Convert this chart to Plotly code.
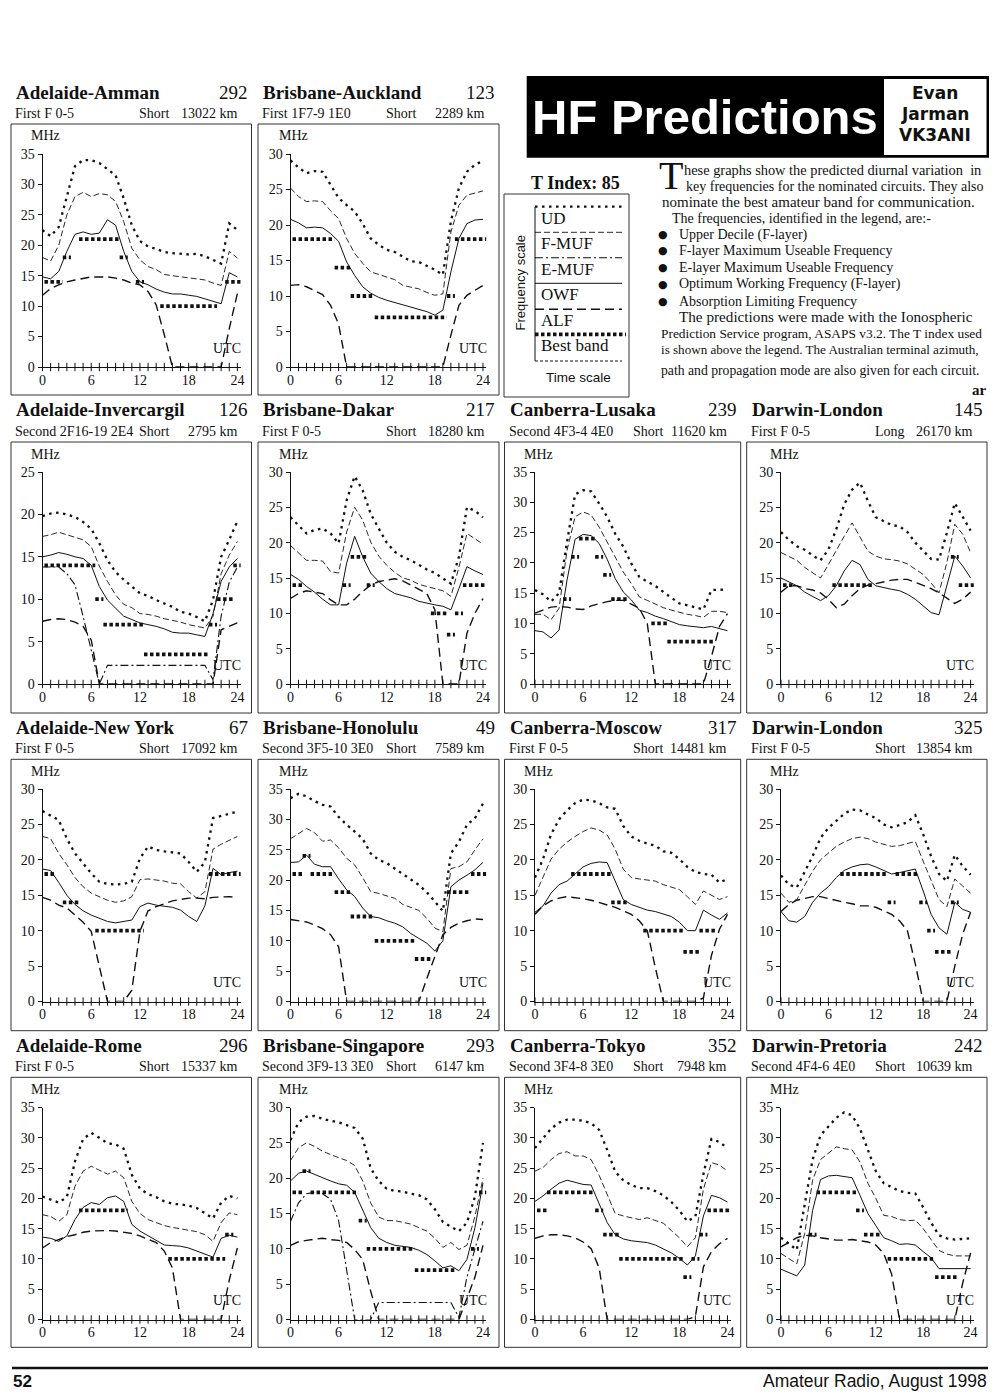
import plotly.graph_objects as go

# ---------------- data (read from the page) ----------------
HOURS = list(range(25))
X_TICKS = [0, 6, 12, 18, 24]

AMMAN_UD = [22.5,21.5,23,28,33,34,34,33.5,32.5,31.5,27.7,23.3,20.7,19.8,19.4,18.9,18.7,18.6,18.5,18.6,18.2,17.6,17,23.6,22.5]
AMMAN_FMUF = [18,17.4,20,25,28,28.7,28,28.5,28.3,27.2,23.9,19.5,17.6,16.5,16,15.2,15,14.8,14.6,14.5,14.3,13.8,13.4,19,17.9]
AMMAN_OWF = [14.8,14.5,15.7,19,21.8,22.2,21.8,22,24.2,23.3,19,15.7,14,13.5,12.8,12.3,12,12,11.8,11.6,11.2,10.8,10.4,15.5,14.8]
AMMAN_ALF = [11.8,12.9,13.5,14,14.3,14.6,14.8,14.8,14.8,14.6,14.3,13.8,13.5,12.4,10.2,5.3,0,0,0,0,0,0,0,6.3,12.1]
AMMAN_BEST = [14,14,14,18,None,21,21,21,21,21,18,None,14,None,None,10,10,10,10,10,10,10,None,14,14]

AUCKLAND_UD = [29.1,28.1,27.3,27.6,27.5,25.6,23.8,22.8,21.9,20.2,18.1,17.2,16.5,16.2,15.5,14.9,14.8,14.3,13.7,13,20.5,25.2,27.5,28.5,29]
AUCKLAND_FMUF = [25.2,24,23.3,23.4,23.3,22,20.9,18.1,16,14.6,13.4,13,12.7,12.3,11.5,11.3,11,10.5,10.1,10.3,19,22.8,24.2,24.5,24.8]
AUCKLAND_OWF = [20.8,20.3,19.6,19.7,19.6,18.8,17.7,14.8,12.9,11.3,10.4,9.8,9.4,9.1,8.7,8.4,8.1,7.8,7.3,8,13.4,18.1,20.2,20.7,20.8]
AUCKLAND_ALF = [11.5,11.6,11.3,10.7,10.2,8.7,6,0,0,0,0,0,0,0,0,0,0,0,0,0,4.5,8.7,10.1,10.8,11.5]
AUCKLAND_BEST = [18,18,18,18,18,18,14,14,10,10,10,7,7,7,7,7,7,7,7,7,10,18,18,18,18]

INVERCARGIL_UD = [19.8,20.1,20.2,20,19.7,19.1,18.3,16.6,14.6,13.2,12.3,11.5,10.7,10.4,9.9,9.5,9.1,8.5,8.3,7.9,7.4,9.9,15,17,19.2]
INVERCARGIL_FMUF = [17.4,17.6,17.9,17.6,17.3,17,16.2,13.9,12.1,10.5,9.4,9,8.3,8.2,8,7.7,7.5,7.3,7,6.8,6.6,8,13,15.2,16.8]
INVERCARGIL_EMUF = [13.8,13.8,13.8,13,11.7,8,4,0,2.2,2.2,2.2,2.2,2.2,2.2,2.2,2.2,2.2,2.2,2.2,2.2,2.2,0.5,8,12,13.8]
INVERCARGIL_OWF = [15,15.2,15.5,15.3,15,14.8,14,11.5,9.9,8.9,8,7.6,7.2,7,6.8,6.5,6.1,6,6,5.8,5.6,8.3,12.1,13.8,14.8]
INVERCARGIL_ALF = [7.4,7.6,7.7,7.6,7.3,6.8,5.2,0,0,0,0,0,0,0,0,0,0,0,0,0,0,0,6.4,6.8,7.2]
INVERCARGIL_BEST = [14,14,14,14,14,14,14,10,7,7,7,7,7,3.5,3.5,3.5,3.5,3.5,3.5,3.5,3.5,7,10,10,14]

DAKAR_UD = [23.6,22.5,21.3,21.8,22,21.3,19.9,26,29.4,27.4,24.1,22,20,18.7,18,17.5,16.8,16.2,15.7,15,14.2,18,25,24.5,23.6]
DAKAR_FMUF = [19.6,18.5,17.5,17.5,17.4,15.9,15.7,21.5,25,23.2,20.1,18.1,16.8,15.8,15,14.7,14.1,13.8,13.5,13.2,12.4,16.5,21.3,20.5,19.8]
DAKAR_OWF = [15.5,14.8,13.8,13,12,11.2,11.2,17.1,20.9,18,15.7,14.5,13.5,12.8,12.5,12.2,11.7,11.4,11.2,11,10.5,13.5,16.6,16,15.5]
DAKAR_ALF = [12.1,12.8,13.2,13,12.8,11.9,11.2,11.2,12,13.1,14,14.5,14.7,14.9,14.6,14,13.5,12.8,10.5,0,0,0,7.2,10,12.1]
DAKAR_BEST = [14,14,None,None,None,None,None,14,18,18,14,None,None,None,None,None,None,None,10,10,7,10,14,14,14]

LUSAKA_UD = [15.5,14.8,13.6,15,23.5,31.3,32,31.8,29.8,27.6,24.8,22.7,19.9,17.7,16.9,16.2,15.2,14.2,13.3,13,12.6,12.3,15.5,15.6,15.5]
LUSAKA_FMUF = [11.5,11.5,10.6,12.5,22.1,27.6,28.4,27.9,25.9,23.5,21,18.5,16.6,14.4,13.8,13.2,12.6,12.2,11.8,11.5,11.3,11,12,12,11.8]
LUSAKA_OWF = [8.8,8.6,7.6,8.9,17.2,23.9,24.7,24.5,23.2,20.6,17.4,15.2,13.9,12.2,11.8,11.2,10.8,10.3,9.8,9.6,9.5,9.3,9.5,9.2,8.8]
LUSAKA_ALF = [11.7,12.2,12.7,12.8,12.7,12.4,12.3,12.9,13.3,13.6,13.8,13.8,13.2,12.5,10,0,0,0,0,0,0,0,4.5,9.5,11.6]
LUSAKA_BEST = [None,None,None,None,14,21,24,24,21,18,14,14,None,None,None,10,10,7,7,7,7,7,7,None,None]

LONDON_L_UD = [21.5,20.4,19.5,19,18.2,17.5,19,21.9,25.4,27.5,28.5,25.9,23.6,23,22.5,22.3,21.5,20,18.8,17.7,17.6,21.4,25.6,23.7,21.7]
LONDON_L_FMUF = [18.6,18,17.5,16.5,15.8,15,16.9,19,20.9,22.8,20.9,18.8,18.1,17.7,17.6,17.4,17,16.2,15.5,14.3,12.9,17.2,22.6,21.2,18.6]
LONDON_L_OWF = [15,14.5,13.9,13,12.4,11.8,12.5,13.9,16,17.5,16.9,14.8,13.9,13.6,13.4,13.2,12.7,12,11,10.1,9.8,13.9,18.1,16.7,15]
LONDON_L_ALF = [13,13.9,13.9,13.5,13.3,12.9,12,10.8,11.3,12.5,13.5,14,14.2,14.5,14.7,14.8,14.8,14.4,14,13.5,12.9,12.1,11.4,12,13]
LONDON_L_BEST = [14,14,None,None,None,None,None,14,14,14,14,14,None,None,None,None,None,None,None,None,None,None,18,14,14]

NEWYORK_UD = [26.9,26.3,25.6,23,20.9,19.5,18.1,16.9,16.6,16.5,16.6,16.9,20.2,21.9,21.4,21.2,21,20.9,19.7,18.3,19.7,25.9,26.2,26.5,26.8]
NEWYORK_FMUF = [23.3,23,20.9,19.3,17.5,16.2,15.3,14.8,14.3,14,14.2,14.8,17.2,17.3,17.2,17,16.7,16.6,15.5,14.6,15.5,21.5,22.2,22.7,23.3]
NEWYORK_OWF = [18.7,18.5,16.8,15,13.7,12.8,12.2,11.8,11.3,11.1,11.3,11.5,13.4,13.9,13.6,13.4,13.3,12.9,12,11.3,13.5,18.8,17.9,18.2,18.4]
NEWYORK_ALF = [14.7,14.3,13.6,13.2,12.2,11.2,9.9,4.9,0,0,0,1.6,9.9,12.8,13.4,13.8,14.2,14.4,14.6,14.6,14.5,14.7,14.8,14.8,14.7]
NEWYORK_BEST = [18,18,None,14,14,None,None,10,10,10,10,10,10,None,None,None,None,None,None,None,None,18,18,18,18]

HONOLULU_UD = [33.5,34.2,33.8,33,32.4,32.1,30.4,29.1,28,26.8,24.4,23.3,22.8,21.9,21,20.1,19.2,18,16.5,14.9,24.4,26.3,29.1,30.2,32.6]
HONOLULU_FMUF = [26.8,27.7,28.5,27.8,26.4,26.6,25.3,23.6,22.5,20.4,18.1,17.8,17.4,17,16,15.5,15,13.7,12.1,11.5,21.9,22.2,23,25,26.8]
HONOLULU_OWF = [22.9,23,24.1,22.6,22.2,22.2,20.2,18.4,17.3,15.4,14,13.8,13.3,12.9,12.3,11.2,10.4,9.6,8.3,10,18.9,20,20.8,21.7,22.9]
HONOLULU_ALF = [13.5,13.3,13.1,12.6,12,11,9,0,0,0,0,0,0,0,0,0,0,3.8,7.5,11,12.2,12.9,13.3,13.6,13.5]
HONOLULU_BEST = [21,21,24,21,21,21,18,18,14,14,14,10,10,10,10,10,7,7,None,None,18,18,18,21,21]

MOSCOW_UD = [17.5,20.1,23.6,25.7,27,28,28.5,28.4,28,27.4,27.2,24.8,23.3,22.7,22.3,22,21.2,21,20.1,19,18.3,18,17.9,16.8,17.3]
MOSCOW_FMUF = [15,17.5,20.1,21.5,22.5,23.3,24,24.5,24.2,23.5,21.5,18.7,17.5,17.3,17.1,17,16.5,16.2,15.8,14.8,13.7,15.6,15,14.4,14.8]
MOSCOW_OWF = [12.6,13.5,15.3,16.5,17,18,19,19.5,19.7,19.6,17,14.4,13.7,13.3,12.9,12.7,12.3,12,11.2,10,10,12.9,12.2,11.6,12.5]
MOSCOW_ALF = [12.3,13.5,14.2,14.6,14.8,14.7,14.5,14.3,14,13.7,13.3,12.8,12.3,11.4,10,4.8,0,0,0,0,0,0.5,6.5,10.2,12.3]
MOSCOW_BEST = [None,None,None,None,None,18,18,18,18,18,14,14,None,None,10,10,10,10,10,7,7,10,10,None,None]

LONDON_S_UD = [17.8,16.5,16.1,18.4,20.5,23.1,24.5,25.5,26.5,27.1,27,26.4,25.9,25,24.6,24.9,25.3,26.3,23.6,20.5,18,17,20.7,19.1,17.9]
LONDON_S_FMUF = [15.3,14,14.4,16.5,18.4,20,21,21.9,22.5,23,23.2,23,22.5,22.2,21.9,22,22.3,22.6,19.8,17,14.4,13.4,17.3,16.3,15.3]
LONDON_S_OWF = [12.7,11.4,11.2,12,14,15.3,16.2,17.5,18.5,19,19.3,19.4,19,18.5,18,18.2,18.5,18.7,15.6,12.3,10.4,9.5,14,13,12.6]
LONDON_S_ALF = [12.7,13.7,14.3,14.6,14.8,14.8,14.5,14.3,14,13.8,13.5,13.5,13.3,12.8,12.3,11.4,10,5.3,0,0,0,0,5,9.5,12.6]
LONDON_S_BEST = [None,None,None,None,None,None,None,None,18,18,18,18,18,18,14,18,18,18,14,10,7,7,14,None,None]

ROME_UD = [20.3,19.8,19.3,20.2,26.1,29.8,30.8,30,29.1,28.9,28.2,23.9,21.6,20.7,20.2,19.5,19.1,19,18.8,18.4,17.6,16.7,19.3,20.4,20]
ROME_FMUF = [17.3,17,16.2,17.3,22,24.5,25.3,24.7,24,24.5,23.4,19.5,17.5,16.5,16,15.5,15.2,15,14.8,14.5,14,12.9,16,17.6,17.3]
ROME_OWF = [13.6,13.4,12.9,13.8,16.5,18.5,19.3,19,20.1,20.4,19.5,15.7,14.6,13.8,13.1,12.3,12.2,12.1,11.8,11.3,10.8,10.3,13.4,13.9,13.6]
ROME_ALF = [11.8,12.7,13.2,13.7,14,14.4,14.6,14.7,14.7,14.6,14.4,14.2,13.8,13.3,12.7,11.3,8.5,0,0,0,0,0,0,6.5,11.8]
ROME_BEST = [None,None,None,None,None,18,18,18,18,18,18,None,None,None,None,None,10,10,10,10,10,10,10,14,None]

SINGAPORE_UD = [25.4,27.9,28.7,28.8,28.4,28.2,27.9,27.5,27.1,25.6,21.4,19.6,18.5,18.2,18.1,17.8,17.6,17,15.6,13.8,13.2,12.5,13.7,17.4,25]
SINGAPORE_FMUF = [22.5,24.3,25,24.5,23.8,23.3,22.9,22.5,21.8,19.6,16.5,14.5,14,14,13.8,13.5,13,12.5,11.5,10.2,10.9,9.9,10.5,14.6,20]
SINGAPORE_EMUF = [13.9,16.5,17.8,18,17.8,17,14,7,0,0,0,2.4,2.4,2.4,2.4,2.4,2.4,2.4,2.4,2.4,2.4,0.3,6,10,13.9]
SINGAPORE_OWF = [19.6,20.7,21,20.5,20,19.6,19.2,19,18,15.6,13,11.5,10.9,10.5,10.4,10.2,9.8,9.2,8.3,7.3,7.6,6.9,8.5,13,19.3]
SINGAPORE_ALF = [10.5,11,11.2,11.4,11.5,11.3,11.2,10.9,9.9,8.5,4,0,0,0,0,0,0,0,0,0,0,0,3,6,10.5]
SINGAPORE_BEST = [18,18,21,18,18,18,18,18,18,14,10,10,10,10,10,10,7,7,7,7,7,None,None,10,18]

TOKYO_UD = [28.3,29.9,31.5,32.5,33,33,32.8,32.4,31.3,28,24.4,23,22.2,21.7,21.7,21.2,20.5,19.4,18,16.2,17,24,29.8,29.3,28.3]
TOKYO_FMUF = [24.5,25.1,26.4,27.4,27.7,27,27,26.4,23.8,20.5,17.5,17.1,16.8,16.5,16.8,16.3,15.9,14.7,13.5,12,13.5,21.5,25.9,25.5,24.5]
TOKYO_OWF = [19.5,20.4,21.5,22.5,23,22.6,22.3,22.2,19,16,14,13.3,13,12.8,12.7,12.3,11.7,11,10.1,9,10.5,17.1,20.5,20.1,19.4]
TOKYO_ALF = [13.4,13.8,14,14,13.8,13.5,12.8,11.7,8.5,0,0,0,0,0,0,0,0,0,0,0,0.5,8.7,11.2,12.5,13.4]
TOKYO_BEST = [18,18,21,21,21,21,21,21,18,14,14,10,10,10,10,10,10,10,10,7,10,14,18,18,18]

PRETORIA_UD = [13.5,12.5,11.5,19,26.4,30.4,31.9,33.3,34.2,33.7,31.5,28,24.5,22.5,21.8,21.2,20.9,20.8,18.5,16,13.9,13.4,13.2,13.3,13.4]
PRETORIA_FMUF = [10.9,10,9.2,14.2,23,26.4,27.5,28.5,28.2,28,26,22.5,20,17.2,17,16.5,16.3,16.4,15,13.1,11.4,10.8,10.5,10.5,10.5]
PRETORIA_OWF = [8.3,7.8,7.2,9,18,23.1,23.7,23.8,23.6,23.4,20.5,17.5,15.5,13.5,13,12.4,12.5,12.3,11.2,10.2,8.4,8.4,8.4,8.4,8.4]
PRETORIA_ALF = [12,12.8,13.5,13.9,13.8,13.5,13.3,13.1,13.1,13.2,13,12.8,12.3,10.9,7.5,0,0,0,0,0,0,0,0,6,11]
PRETORIA_BEST = [None,None,None,None,14,21,21,21,21,21,18,14,14,None,10,10,10,10,10,10,7,7,7,None,None]

CHARTS = [
    dict(name="Adelaide-Amman", num="292", mode="First F 0-5", path="Short", dist="13022 km", ymax=35,
         ud=AMMAN_UD, fmuf=AMMAN_FMUF, emuf=None, owf=AMMAN_OWF, alf=AMMAN_ALF, best=AMMAN_BEST),
    dict(name="Brisbane-Auckland", num="123", mode="First 1F7-9 1E0", path="Short", dist="2289 km", ymax=30,
         ud=AUCKLAND_UD, fmuf=AUCKLAND_FMUF, emuf=None, owf=AUCKLAND_OWF, alf=AUCKLAND_ALF, best=AUCKLAND_BEST),
    dict(name="Adelaide-Invercargil", num="126", mode="Second 2F16-19 2E4", path="Short", dist="2795 km", ymax=25,
         ud=INVERCARGIL_UD, fmuf=INVERCARGIL_FMUF, emuf=INVERCARGIL_EMUF, owf=INVERCARGIL_OWF, alf=INVERCARGIL_ALF, best=INVERCARGIL_BEST),
    dict(name="Brisbane-Dakar", num="217", mode="First F 0-5", path="Short", dist="18280 km", ymax=30,
         ud=DAKAR_UD, fmuf=DAKAR_FMUF, emuf=None, owf=DAKAR_OWF, alf=DAKAR_ALF, best=DAKAR_BEST),
    dict(name="Canberra-Lusaka", num="239", mode="Second 4F3-4 4E0", path="Short", dist="11620 km", ymax=35,
         ud=LUSAKA_UD, fmuf=LUSAKA_FMUF, emuf=None, owf=LUSAKA_OWF, alf=LUSAKA_ALF, best=LUSAKA_BEST),
    dict(name="Darwin-London", num="145", mode="First F 0-5", path="Long", dist="26170 km", ymax=30,
         ud=LONDON_L_UD, fmuf=LONDON_L_FMUF, emuf=None, owf=LONDON_L_OWF, alf=LONDON_L_ALF, best=LONDON_L_BEST),
    dict(name="Adelaide-New York", num="67", mode="First F 0-5", path="Short", dist="17092 km", ymax=30,
         ud=NEWYORK_UD, fmuf=NEWYORK_FMUF, emuf=None, owf=NEWYORK_OWF, alf=NEWYORK_ALF, best=NEWYORK_BEST),
    dict(name="Brisbane-Honolulu", num="49", mode="Second 3F5-10 3E0", path="Short", dist="7589 km", ymax=35,
         ud=HONOLULU_UD, fmuf=HONOLULU_FMUF, emuf=None, owf=HONOLULU_OWF, alf=HONOLULU_ALF, best=HONOLULU_BEST),
    dict(name="Canberra-Moscow", num="317", mode="First F 0-5", path="Short", dist="14481 km", ymax=30,
         ud=MOSCOW_UD, fmuf=MOSCOW_FMUF, emuf=None, owf=MOSCOW_OWF, alf=MOSCOW_ALF, best=MOSCOW_BEST),
    dict(name="Darwin-London", num="325", mode="First F 0-5", path="Short", dist="13854 km", ymax=30,
         ud=LONDON_S_UD, fmuf=LONDON_S_FMUF, emuf=None, owf=LONDON_S_OWF, alf=LONDON_S_ALF, best=LONDON_S_BEST),
    dict(name="Adelaide-Rome", num="296", mode="First F 0-5", path="Short", dist="15337 km", ymax=35,
         ud=ROME_UD, fmuf=ROME_FMUF, emuf=None, owf=ROME_OWF, alf=ROME_ALF, best=ROME_BEST),
    dict(name="Brisbane-Singapore", num="293", mode="Second 3F9-13 3E0", path="Short", dist="6147 km", ymax=30,
         ud=SINGAPORE_UD, fmuf=SINGAPORE_FMUF, emuf=SINGAPORE_EMUF, owf=SINGAPORE_OWF, alf=SINGAPORE_ALF, best=SINGAPORE_BEST),
    dict(name="Canberra-Tokyo", num="352", mode="Second 3F4-8 3E0", path="Short", dist="7948 km", ymax=35,
         ud=TOKYO_UD, fmuf=TOKYO_FMUF, emuf=None, owf=TOKYO_OWF, alf=TOKYO_ALF, best=TOKYO_BEST),
    dict(name="Darwin-Pretoria", num="242", mode="Second 4F4-6 4E0", path="Short", dist="10639 km", ymax=35,
         ud=PRETORIA_UD, fmuf=PRETORIA_FMUF, emuf=None, owf=PRETORIA_OWF, alf=PRETORIA_ALF, best=PRETORIA_BEST),
]

LEGEND_LABELS = ["UD", "F-MUF", "E-MUF", "OWF", "ALF", "Best band"]
BULLETS = ["Upper Decile (F-layer)", "F-layer Maximum Useable Frequency",
           "E-layer Maximum Useable Frequency", "Optimum Working Frequency (F-layer)",
           "Absorption Limiting Frequency"]

# ---------------- layout geometry (pixels on the 1000x1400 page) ----------------
OFF = 8                      # the page body margin of the html document
W, H = 1000 - 2 * OFF, 1400 - 2 * OFF
SLOTS = [(0, 0), (0, 1), (1, 0), (1, 1), (1, 2), (1, 3), (2, 0), (2, 1), (2, 2), (2, 3),
         (3, 0), (3, 1), (3, 2), (3, 3)]
COL_X0 = [42.5, 290.5, 535.0, 781.0]
COL_PXH = [8.12, 8.02, 8.02, 7.9]
COL_BOX = [(11, 251.5), (258, 499), (504.5, 740.7), (746.7, 987)]
ROW_Y = [(154, 367), (472, 684), (789, 1001.5), (1107.5, 1319.5)]
ROW_BOX = [(124, 395), (442, 713), (759.3, 1030.7), (1077.3, 1347.3)]
XMAX = 24.4

SERIF = "Liberation Serif, Times New Roman, serif"
SANS = "Liberation Sans, Arial, sans-serif"
INK = "#111111"

STYLE = {
    "ud": dict(width=2.3, dash="2.5px,4.5px"),
    "fmuf": dict(width=0.9, dash="6px,3px"),
    "emuf": dict(width=1.1, dash="8px,3px,2px,3px"),
    "owf": dict(width=1.0, dash="solid"),
    "alf": dict(width=1.4, dash="9px,5px"),
    "best": dict(width=3.8, dash="3.5px,2.5px"),
}


def px(x):
    return (x - OFF) / W


def py(y):
    return 1 - (y - OFF) / H


def band_segments(vals):
    xs, ys = [], []
    h, n = 0, len(vals)
    while h < n:
        v = vals[h]
        if v is None:
            h += 1
            continue
        s = h
        while h + 1 < n and vals[h + 1] == v:
            h += 1
        xs += [HOURS[s] - 0.5, HOURS[h] + 0.5, None]
        ys += [v, v, None]
        h += 1
    return xs, ys


fig = go.Figure()
shapes, annotations = [], []
axes = {}

for i, (c, (row, col)) in enumerate(zip(CHARTS, SLOTS)):
    k = i + 1
    xa = "x" if k == 1 else f"x{k}"
    ya = "y" if k == 1 else f"y{k}"
    x0, pxh = COL_X0[col], COL_PXH[col]
    ytop, yzero = ROW_Y[row]
    axes["xaxis" if k == 1 else f"xaxis{k}"] = dict(
        domain=[px(x0), px(x0 + XMAX * pxh)], range=[0, XMAX], anchor=ya,
        tickvals=X_TICKS, ticktext=[str(t) for t in X_TICKS], ticks="", showgrid=False,
        zeroline=False, showline=True, linecolor=INK, linewidth=1,
        tickfont=dict(family=SERIF, size=14, color=INK), fixedrange=True)
    axes["yaxis" if k == 1 else f"yaxis{k}"] = dict(
        domain=[py(yzero), py(ytop)], range=[0, c["ymax"]], anchor=xa,
        tickvals=list(range(0, c["ymax"] + 1, 5)), ticks="outside", ticklen=4, tickwidth=1,
        tickcolor=INK, showgrid=False, zeroline=False, showline=True, linecolor=INK, linewidth=1,
        tickfont=dict(family=SERIF, size=14, color=INK), fixedrange=True)

    for key in ["ud", "fmuf", "emuf", "owf", "alf"]:
        if c[key] is None:
            continue
        fig.add_trace(go.Scatter(x=HOURS, y=c[key], xaxis=xa, yaxis=ya, mode="lines",
                                 line=dict(color=INK, **STYLE[key]), showlegend=False,
                                 hoverinfo="skip"))
    bx, by = band_segments(c["best"])
    fig.add_trace(go.Scatter(x=bx, y=by, xaxis=xa, yaxis=ya, mode="lines",
                             line=dict(color=INK, **STYLE["best"]), showlegend=False,
                             hoverinfo="skip"))
    fig.add_trace(go.Scatter(x=HOURS, y=[0] * len(HOURS), xaxis=xa, yaxis=ya, mode="markers",
                             marker=dict(symbol="line-ns", size=6, line=dict(width=1, color=INK)),
                             cliponaxis=False, showlegend=False, hoverinfo="skip"))

    bl, br = COL_BOX[col]
    bt, bb = ROW_BOX[row]
    shapes.append(dict(type="rect", xref="paper", yref="paper", x0=px(bl), x1=px(br),
                       y0=py(bb), y1=py(bt), line=dict(color="#333", width=1)))
    annotations += [
        dict(text=f"<b>{c['name']}</b>", x=px(bl + 4), y=py(bt - 32), xanchor="left",
             font=dict(family=SERIF, size=19, color=INK)),
        dict(text=c["num"], x=px(br - 3), y=py(bt - 32), xanchor="right",
             font=dict(family=SERIF, size=19, color=INK)),
        dict(text=c["mode"], x=px(bl + 3), y=py(bt - 11), xanchor="left",
             font=dict(family=SERIF, size=14, color=INK)),
        dict(text=c["path"], x=px(bl + 127), y=py(bt - 11), xanchor="left",
             font=dict(family=SERIF, size=14, color=INK)),
        dict(text=c["dist"], x=px(br - 13), y=py(bt - 11), xanchor="right",
             font=dict(family=SERIF, size=14, color=INK)),
        dict(text="MHz", x=px(x0 + 3), y=py(ytop - 18), xanchor="center",
             font=dict(family=SERIF, size=14, color=INK)),
        dict(text="UTC", x=px(x0 + 22.7 * pxh), y=py(yzero - 19), xanchor="center",
             font=dict(family=SERIF, size=14, color=INK)),
    ]

# ---------------- header ----------------
shapes.append(dict(type="rect", xref="paper", yref="paper", x0=px(526.7), x1=px(989),
                   y0=py(157.7), y1=py(76), fillcolor="black", line=dict(width=0)))
shapes.append(dict(type="rect", xref="paper", yref="paper", x0=px(884), x1=px(986.5),
                   y0=py(155), y1=py(79), fillcolor="white", line=dict(width=0)))
annotations.append(dict(text="<b>HF Predictions</b>", x=px(705), y=py(117), xanchor="center",
                        font=dict(family=SANS, size=49, color="white")))
for t, yy in zip(["Evan", "Jarman", "VK3ANI"], [93, 114, 135]):
    annotations.append(dict(text=f"<b>{t}</b>", x=px(935), y=py(yy), xanchor="center",
                            font=dict(family="DejaVu Sans, Arial", size=17, color=INK)))

# ---------------- legend box ----------------
annotations.append(dict(text="<b>T Index: 85</b>", x=px(575), y=py(183), xanchor="center",
                        font=dict(family=SERIF, size=18, color=INK)))
shapes.append(dict(type="rect", xref="paper", yref="paper", x0=px(504), x1=px(629),
                   y0=py(397), y1=py(194), line=dict(color="#333", width=1)))
shapes.append(dict(type="line", xref="paper", yref="paper", x0=px(535), x1=px(535),
                   y0=py(361), y1=py(207), line=dict(color=INK, width=1)))
LEG_Y = [206.7, 232.3, 257.7, 283.3, 309.3, 334.3]
LEG_KEYS = ["ud", "fmuf", "emuf", "owf", "alf", "best"]
for lab, key, yy in zip(LEGEND_LABELS, LEG_KEYS, LEG_Y):
    xe = 626 if key == "best" else 622
    shapes.append(dict(type="line", xref="paper", yref="paper", x0=px(535), x1=px(xe),
                       y0=py(yy), y1=py(yy), line=dict(color=INK, **STYLE[key])))
    annotations.append(dict(text=lab, x=px(540), y=py(yy + 11.5), xanchor="left",
                            font=dict(family=SERIF, size=17, color=INK)))
shapes.append(dict(type="line", xref="paper", yref="paper", x0=px(535), x1=px(622),
                   y0=py(361), y1=py(361), line=dict(color=INK, width=1, dash="3px,2px")))
annotations.append(dict(text="Frequency scale", x=px(520.7), y=py(282.7), textangle=-90,
                        xanchor="center", font=dict(family=SANS, size=13, color=INK)))
annotations.append(dict(text="Time scale", x=px(578), y=py(377), xanchor="center",
                        font=dict(family=SANS, size=13.5, color=INK)))

# ---------------- paragraph ----------------
annotations.append(dict(text="T", x=px(658), y=py(175.5), xanchor="left",
                        font=dict(family=SERIF, size=40, color=INK)))
PARA = [
    (683, 170, "hese graphs show the predicted diurnal variation  in", 14.4),
    (685, 186, "key frequencies for the nominated circuits. They also", 14.0),
    (661, 202.5, "nominate the best amateur band for communication.", 15.0),
    (671, 218.5, "The frequencies, identified in the legend, are:-", 14.0),
    (678, 316.7, "The predictions were made with the Ionospheric", 15.2),
    (660, 333.3, "Prediction Service program, ASAPS v3.2. The T index used", 13.4),
    (660, 350, "is shown above the legend. The Australian terminal azimuth,", 13.1),
    (660, 370, "path and propagation mode are also given for each circuit.", 13.7),
]
for xx, yy, t, fs in PARA:
    annotations.append(dict(text=t, x=px(xx), y=py(yy), xanchor="left",
                            font=dict(family=SERIF, size=fs, color=INK)))
for t, yy in zip(BULLETS, [235, 251, 267.7, 284.3, 301]):
    annotations.append(dict(text="\u25CF", x=px(663), y=py(yy), xanchor="center",
                            font=dict(family="DejaVu Sans", size=11, color=INK)))
    annotations.append(dict(text=t, x=px(678), y=py(yy), xanchor="left",
                            font=dict(family=SERIF, size=14.0, color=INK)))
annotations.append(dict(text="<b>ar</b>", x=px(988), y=py(390), xanchor="right",
                        font=dict(family=SERIF, size=15, color=INK)))

# ---------------- footer ----------------
shapes.append(dict(type="line", xref="paper", yref="paper", x0=px(12), x1=px(988),
                   y0=py(1368), y1=py(1368), line=dict(color=INK, width=2.5)))
annotations.append(dict(text="<b>52</b>", x=px(12), y=py(1381), xanchor="left",
                        font=dict(family=SANS, size=17, color=INK)))
annotations.append(dict(text="Amateur Radio, August 1998", x=px(988), y=py(1381), xanchor="right",
                        font=dict(family=SANS, size=17.5, color=INK)))

for a in annotations:
    a.setdefault("xref", "paper")
    a.setdefault("yref", "paper")
    a.setdefault("yanchor", "middle")
    a.setdefault("showarrow", False)
    a.setdefault("borderpad", 0)

fig.update_layout(width=W, height=H, margin=dict(l=0, r=0, t=0, b=0),
                  paper_bgcolor="white", plot_bgcolor="white", template="none",
                  showlegend=False, shapes=shapes, annotations=annotations, **axes)

fig.write_html("out.html", config={"displayModeBar": False})
